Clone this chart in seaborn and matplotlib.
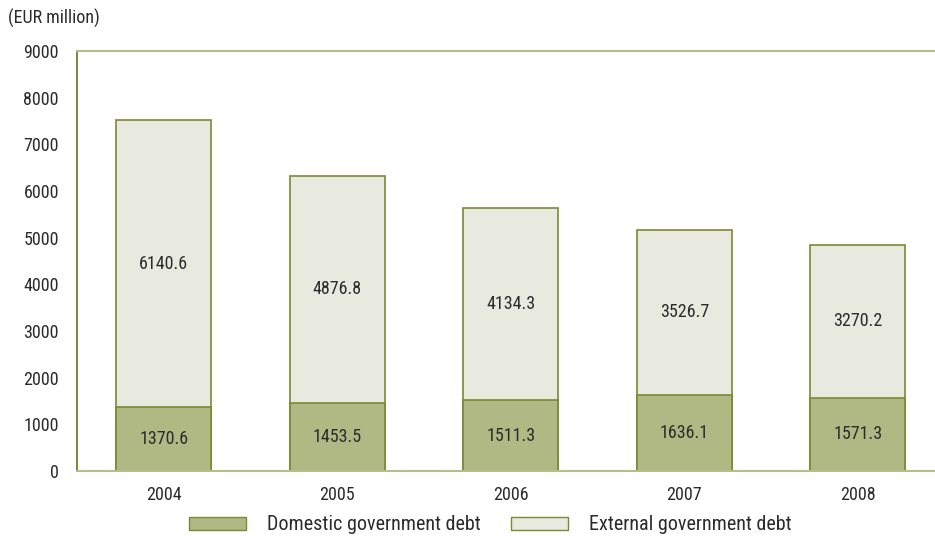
import matplotlib
matplotlib.use("Agg")
import matplotlib.pyplot as plt
import matplotlib.patches as mpatches
from matplotlib import font_manager
from matplotlib.ticker import FixedLocator
import seaborn as sns
import pandas as pd
import numpy as np

years = ["2004", "2005", "2006", "2007", "2008"]
domestic = [1370.6, 1453.5, 1511.3, 1636.1, 1571.3]
external = [6140.6, 4876.8, 4134.3, 3526.7, 3270.2]
series_names = ["Domestic government debt", "External government debt"]
y_ticks = [0, 1000, 2000, 3000, 4000, 5000, 6000, 7000, 8000, 9000]
unit_label = "(EUR million)"

DOM_FILL = "#b0b884"
EXT_FILL = "#e8eadf"
EDGE = "#7a8a30"
SPINE_DARK = "#6e7d2f"
SPINE_LIGHT = "#b4c08c"
TEXT = "#2b2b2b"

sns.set_theme(style="white")
installed = {f.name for f in font_manager.fontManager.ttflist}
families = [f for f in ["Roboto Condensed", "Liberation Sans Narrow", "Liberation Sans"]
            if f in installed]
plt.rcParams["font.family"] = families + ["DejaVu Sans"]
FS = 13
LEG_FS = 14.5

df = pd.DataFrame({"year": years, "domestic": domestic, "external": external})
df["total"] = df["domestic"] + df["external"]

fig = plt.figure(figsize=(9.35, 5.36), dpi=100)
ax = fig.add_axes([77 / 935, 1 - 471 / 536, (944.5 - 77) / 935, 420 / 536])

# stacked columns: full height first, domestic part drawn over it
sns.barplot(data=df, x="year", y="total", color=EXT_FILL, saturation=1,
            edgecolor=EDGE, linewidth=1.2, width=0.55, ax=ax)
sns.barplot(data=df, x="year", y="domestic", color=DOM_FILL, saturation=1,
            edgecolor=EDGE, linewidth=1.2, width=0.55, ax=ax)

for i, (d, e) in enumerate(zip(domestic, external)):
    ax.text(i, d / 2, f"{d:.1f}", ha="center", va="center", fontsize=FS, color=TEXT)
    ax.text(i, d + e / 2, f"{e:.1f}", ha="center", va="center", fontsize=FS, color=TEXT)

ax.set_xlim(-0.5, 4.5)
ax.set_ylim(0, 9000)
ax.set_yticks(y_ticks)
ax.set_yticklabels([str(t) for t in y_ticks])
ax.set_xlabel("")
ax.set_ylabel("")

# category labels at centres, tick marks at the boundaries
ax.set_xticks(range(len(years)))
ax.set_xticklabels(years)
ax.xaxis.set_minor_locator(FixedLocator(np.arange(-0.5, len(years), 1.0)))
ax.tick_params(axis="x", which="major", length=0, pad=11, labelsize=FS, labelcolor=TEXT)
ax.tick_params(axis="x", which="minor", length=7, width=1.5, color=SPINE_LIGHT, direction="out")
ax.tick_params(axis="y", which="major", length=7, width=1.5, color=SPINE_LIGHT,
               direction="out", pad=6, labelsize=FS, labelcolor=TEXT)

for side in ["left", "top", "bottom"]:
    ax.spines[side].set_visible(True)
ax.spines["left"].set_color(SPINE_DARK)
ax.spines["left"].set_linewidth(1.3)
ax.spines["top"].set_color(SPINE_LIGHT)
ax.spines["top"].set_linewidth(1.5)
ax.spines["bottom"].set_color(SPINE_LIGHT)
ax.spines["bottom"].set_linewidth(1.5)
ax.spines["right"].set_visible(False)
ax.grid(False)

fig.text(8 / 935, 1 - 18 / 536, unit_label, ha="left", va="center", fontsize=FS, color=TEXT)

handles = [
    mpatches.Patch(facecolor=DOM_FILL, edgecolor=EDGE, linewidth=1.0, label=series_names[0]),
    mpatches.Patch(facecolor=EXT_FILL, edgecolor=EDGE, linewidth=1.0, label=series_names[1]),
]
fig.legend(handles=handles, loc="center", bbox_to_anchor=(490.5 / 935, 1 - 525 / 536),
           ncol=2, frameon=False, fontsize=LEG_FS, handlelength=2.83, handleheight=0.6,
           handletextpad=1.04, columnspacing=1.5, labelcolor=TEXT,
           borderpad=0, borderaxespad=0)

fig.savefig("out.png", dpi=100)
